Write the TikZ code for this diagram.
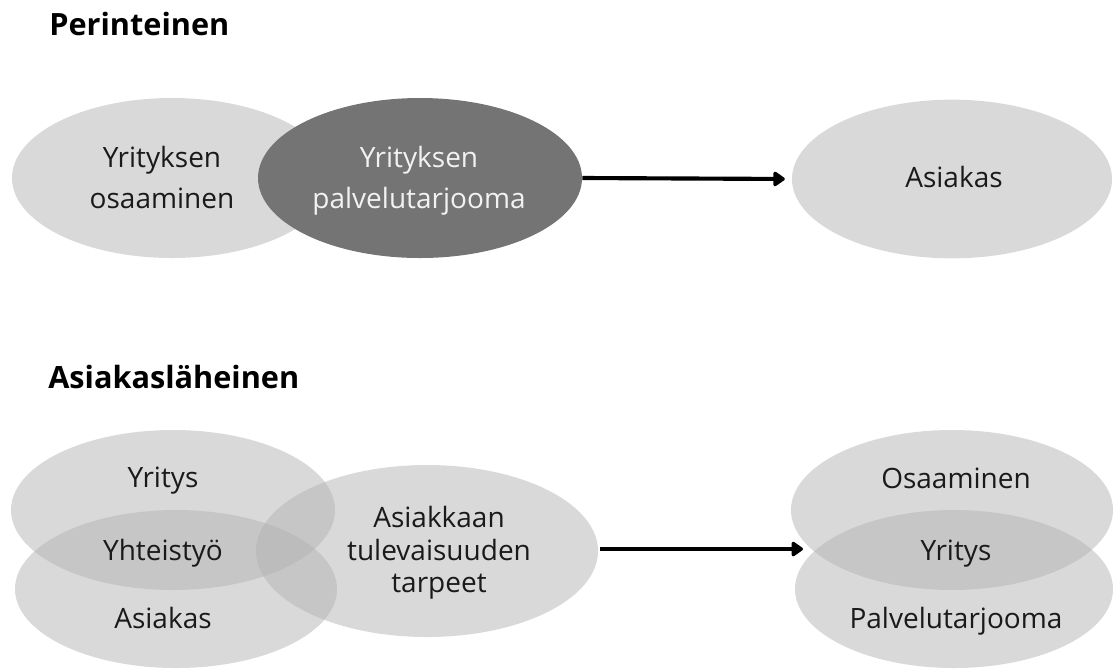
\documentclass[tikz,border=0pt]{standalone}
\usepackage{fontspec}
\setmainfont{Open Sans}
\usetikzlibrary{shapes.geometric,arrows.meta}
\definecolor{lightfill}{HTML}{D9D9D9}
\definecolor{darkfill}{HTML}{747474}
\definecolor{transfill}{HTML}{B3B3B3}
\definecolor{lighttext}{HTML}{F2F2F2}
\definecolor{bodytext}{HTML}{1A1A1A}
\begin{document}
\begin{tikzpicture}[x=0.75pt,y=-0.75pt,
  blob/.style={ellipse, inner sep=0pt, draw=none},
  solidblob/.style={blob, fill=lightfill},
  darkblob/.style={blob, fill=darkfill},
  glassblob/.style={blob, fill=transfill, fill opacity=0.5},
  lbl/.style={inner sep=0pt, anchor=base, text=bodytext, font=\fontsize{21}{25}\selectfont},
  title/.style={inner sep=0pt, anchor=base west, text=black, font=\fontsize{23}{27}\selectfont\bfseries},
  arr/.style={line width=3.1pt, -{Triangle[length=9.5pt,width=12.5pt,round]}}
]
\useasboundingbox (0,0) rectangle (1113,669);
% ---------- Perinteinen ----------
\node[title] (t1) at (49,35) {Perinteinen};
\node[solidblob, minimum width=240pt, minimum height=120pt] (osaam) at (172,178) {};
\node[darkblob, minimum width=243pt, minimum height=120pt] (tarj) at (420,178) {};
\node[solidblob, minimum width=240pt, minimum height=119pt] (asi1) at (952,179) {};
\node[lbl] (osaamL1) at (162,167) {Yrityksen};
\node[lbl] (osaamL2) at (162,208) {osaaminen};
\node[lbl, text=lighttext] (tarjL1) at (419,167) {Yrityksen};
\node[lbl, text=lighttext] (tarjL2) at (419,208) {palvelutarjooma};
\node[lbl] (asi1L) at (954,187) {Asiakas};
\draw[arr, shorten >=5.2pt] (tarj.east) -- (asi1.west);
% ---------- Asiakasläheinen ----------
\node[title] (t2) at (48,388) {Asiakasläheinen};
\node[glassblob, minimum width=243pt, minimum height=120pt] (yri) at (173,510) {};
\node[glassblob, minimum width=241.5pt, minimum height=118.5pt] (asi2) at (176,589) {};
\node[glassblob, minimum width=256.5pt, minimum height=129pt] (tarve) at (427,551) {};
\node[glassblob, minimum width=241.5pt, minimum height=120pt] (osa2) at (952,510) {};
\node[glassblob, minimum width=238.5pt, minimum height=118.5pt] (palv) at (954,589) {};
\node[lbl] (yriL) at (163,487) {Yritys};
\node[lbl] (yhtL) at (163,560) {Yhteistyö};
\node[lbl] (asi2L) at (163,628) {Asiakas};
\node[lbl] (tarveL1) at (439,527) {Asiakkaan};
\node[lbl] (tarveL2) at (439,560) {tulevaisuuden};
\node[lbl] (tarveL3) at (439,592) {tarpeet};
\node[lbl] (osa2L) at (956,488) {Osaaminen};
\node[lbl] (yri2L) at (956,560) {Yritys};
\node[lbl] (palvL) at (956,628) {Palvelutarjooma};
\coordinate (a2s) at (600,549);
\coordinate (a2e) at (803,549);
\draw[arr] (a2s) -- (a2e);
\end{tikzpicture}
\end{document}
